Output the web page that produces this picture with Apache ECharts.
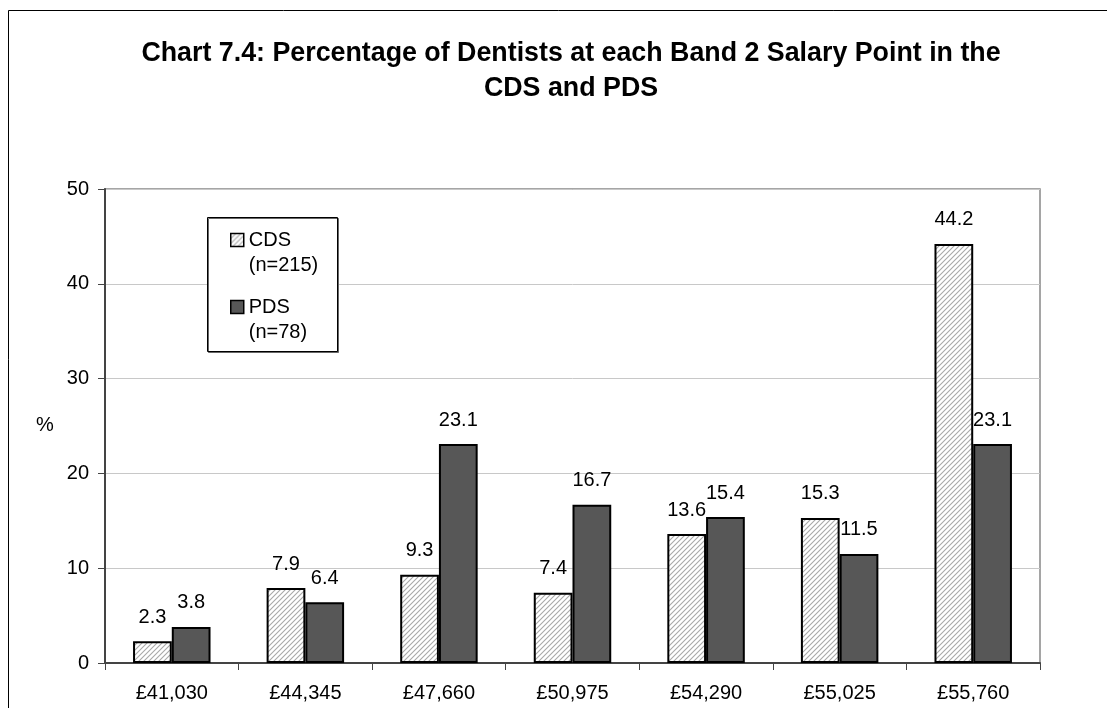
<!DOCTYPE html>
<html><head><meta charset="utf-8">
<script src="https://cdn.jsdelivr.net/npm/echarts@6/dist/echarts.min.js"></script>
<style>html,body{margin:0;padding:0;background:#fff}#c{width:1107px;height:708px}</style>
</head><body><div id="c"></div>
<script>
var categories = ['£41,030','£44,345','£47,660','£50,975','£54,290','£55,025','£55,760'];
var cdsValues = [2.3, 7.9, 9.3, 7.4, 13.6, 15.3, 44.2];
var pdsValues = [3.8, 6.4, 23.1, 16.7, 15.4, 11.5, 23.1];
var yTicks = [0, 10, 20, 30, 40, 50];
var seriesNames = ['CDS\n(n=215)', 'PDS\n(n=78)'];
var titleText = 'Chart 7.4: Percentage of Dentists at each Band 2 Salary Point in the\nCDS and PDS';

function hatch() {
  var c = document.createElement('canvas');
  c.width = 5; c.height = 5;
  var g = c.getContext('2d');
  g.fillStyle = '#ffffff'; g.fillRect(0, 0, 5, 5);
  g.strokeStyle = '#a8a8a8'; g.lineWidth = 1.1;
  g.beginPath();
  g.moveTo(-1, 6); g.lineTo(6, -1);
  g.moveTo(-1, 1); g.lineTo(1, -1);
  g.moveTo(4, 6); g.lineTo(6, 4);
  g.stroke();
  return c;
}
var chart = echarts.init(document.getElementById('c'), null, {renderer: 'canvas'});
var FONT = 'Liberation Sans, Arial, sans-serif';
var gridL = 105, gridT = 189, gridR = 1107 - 1040, gridB = 708 - 663;
var legendCommon = {
  left: 230, orient: 'vertical', itemWidth: 13, itemHeight: 13, padding: 0, z: 10, icon: 'rect',
  formatter: function (n) { return '\n' + n; },
  textStyle: {fontFamily: FONT, fontSize: 20, color: '#000', lineHeight: 25},
  itemStyle: {borderColor: '#000', borderWidth: 1.5}
};
chart.setOption({
  animation: false,
  backgroundColor: '#fff',
  title: {
    text: titleText, left: 566, top: 31.5, textAlign: 'center',
    textStyle: {fontFamily: FONT, fontSize: 26.8, fontWeight: 'bold', color: '#000', lineHeight: 35}
  },
  graphic: [
    {type: 'rect', shape: {x: 8.5, y: 10.5, width: 1120, height: 720}, style: {fill: 'none', stroke: '#000', lineWidth: 1}, z: -1},
    {type: 'rect', shape: {x: 207.5, y: 217.5, width: 130, height: 134}, style: {fill: '#fff', stroke: '#000', lineWidth: 1, shadowColor: '#666', shadowOffsetX: 1, shadowOffsetY: 1}, z: 5},
    {type: 'text', style: {text: '%', x: 45, y: 425, font: '20px ' + FONT, fill: '#000', textAlign: 'center', textVerticalAlign: 'middle'}}
  ],
  legend: [
    Object.assign({}, legendCommon, {top: 240 - 37.5, data: [seriesNames[0]]}),
    Object.assign({}, legendCommon, {top: 307 - 37.5, data: [seriesNames[1]]})
  ],
  grid: {left: gridL, top: gridT, right: gridR, bottom: gridB, show: true, borderColor: '#888', borderWidth: 1.5},
  xAxis: {
    type: 'category', data: categories,
    axisLine: {show: true, lineStyle: {color: '#444', width: 2}},
    axisTick: {show: true, length: 7, lineStyle: {color: '#444'}},
    axisLabel: {fontFamily: FONT, fontSize: 20, color: '#000', margin: 20}
  },
  yAxis: {
    type: 'value', min: 0, max: 50, interval: 10,
    axisLine: {show: true, lineStyle: {color: '#444', width: 2}},
    axisTick: {show: true, length: 7, lineStyle: {color: '#444'}},
    axisLabel: {fontFamily: FONT, fontSize: 20, color: '#000', margin: 16, formatter: function(v){ return yTicks.indexOf(v) >= 0 ? String(v) : ''; }},
    splitLine: {show: true, lineStyle: {color: '#c8c8c8', width: 1}}
  },
  series: [
    {
      name: seriesNames[0], type: 'bar', data: cdsValues, barGap: '0%', barCategoryGap: '42%',
      itemStyle: {color: {image: hatch(), repeat: 'repeat'}, borderColor: '#000', borderWidth: 2},
      label: {show: true, position: 'top', distance: 14, fontFamily: FONT, fontSize: 20, color: '#000'}
    },
    {
      name: seriesNames[1], type: 'bar', data: pdsValues,
      itemStyle: {color: '#575757', borderColor: '#000', borderWidth: 2},
      label: {show: true, position: 'top', distance: 14, fontFamily: FONT, fontSize: 20, color: '#000'}
    }
  ]
});
</script></body></html>
